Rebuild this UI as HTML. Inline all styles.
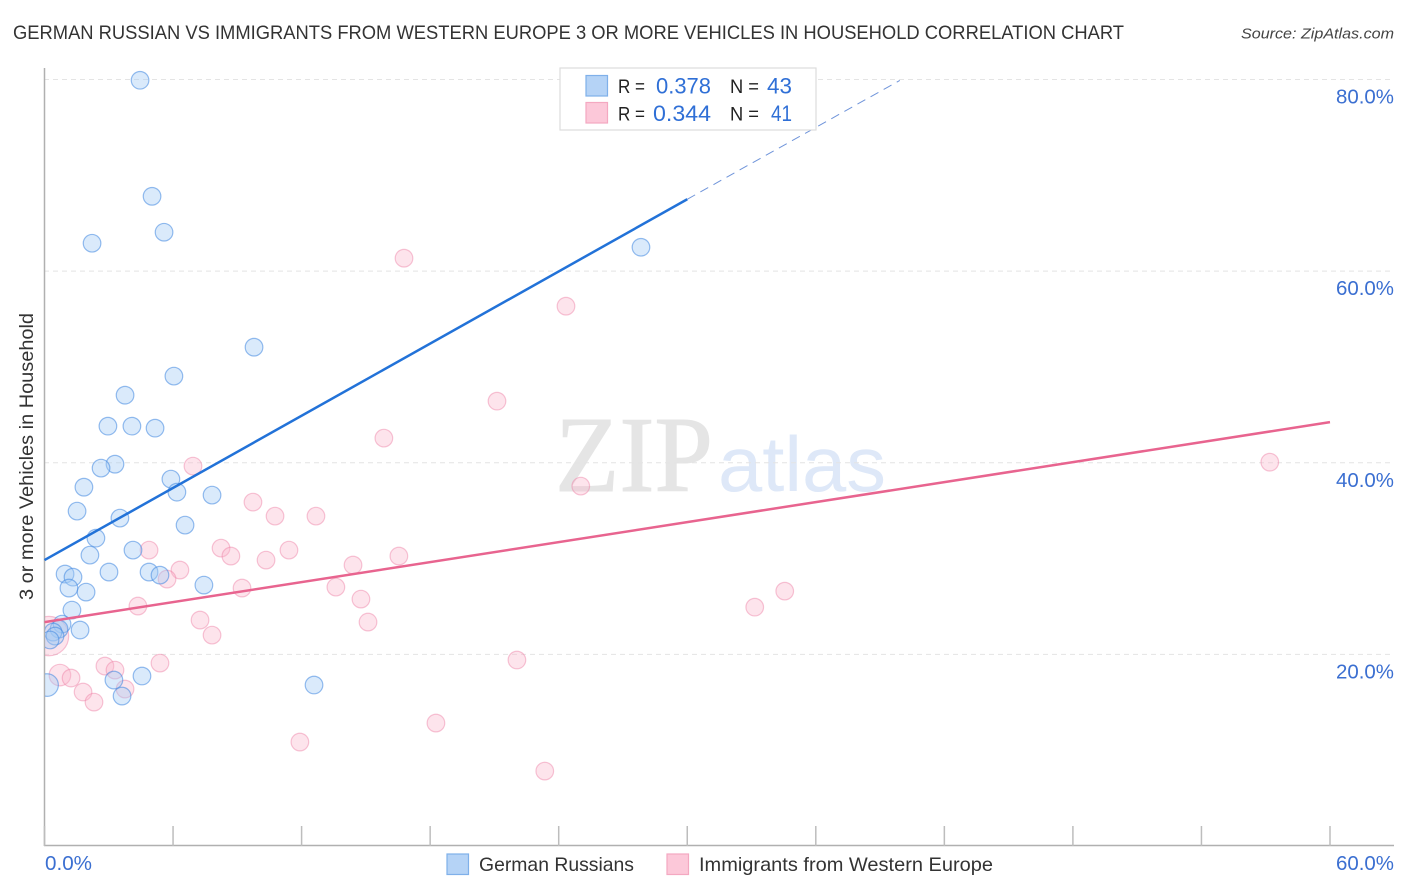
<!DOCTYPE html>
<html lang="en">
<head>
<meta charset="utf-8">
<title>German Russian vs Immigrants from Western Europe Correlation Chart</title>
<style>
html,body{margin:0;padding:0;background:#fff;width:1406px;height:892px;overflow:hidden}
svg{display:block;font-family:"Liberation Sans",sans-serif}
</style>
</head>
<body>
<svg id="chart" xmlns="http://www.w3.org/2000/svg" width="1406" height="892" viewBox="0 0 1406 892">
  <defs>
    <clipPath id="plot-clip"><rect x="45" y="60" width="1349" height="785"/></clipPath>
  </defs>
  <rect x="0" y="0" width="1406" height="892" fill="#fff"/>
  <text x="13" y="39" font-size="19" fill="#333" textLength="1111" lengthAdjust="spacingAndGlyphs">GERMAN RUSSIAN VS IMMIGRANTS FROM WESTERN EUROPE 3 OR MORE VEHICLES IN HOUSEHOLD CORRELATION CHART</text>
  <text x="1394" y="38.5" font-size="15" font-style="italic" fill="#444" text-anchor="end" textLength="153" lengthAdjust="spacingAndGlyphs">Source: ZipAtlas.com</text>

  <g>
    <text x="555" y="491" font-family="'Liberation Serif',serif" font-size="108" fill="#e5e5e5" stroke="#e5e5e5" stroke-width="1" textLength="158" lengthAdjust="spacingAndGlyphs">ZIP</text>
    <text x="718" y="491" font-family="'Liberation Sans',sans-serif" font-size="78" fill="#dee8f8" textLength="168" lengthAdjust="spacingAndGlyphs">atlas</text>
  </g>

  <g id="grid"></g>
  <g id="axes">
    <line x1="44.5" y1="68" x2="44.5" y2="846" stroke="#b0b0b0" stroke-width="1.5"/>
    <line x1="44" y1="845.5" x2="1394" y2="845.5" stroke="#b0b0b0" stroke-width="1.5"/>
  </g>
  <g id="x-ticks"></g>
  <g id="pink-points" clip-path="url(#plot-clip)"></g>
  <g id="blue-points" clip-path="url(#plot-clip)"></g>
  <g id="trend-lines"></g>
  <g id="y-labels"></g>
  <g id="x-labels"></g>

  <text transform="translate(33,456.5) rotate(-90)" font-size="19" fill="#333" text-anchor="middle" textLength="287" lengthAdjust="spacingAndGlyphs">3 or more Vehicles in Household</text>

  <g>
    <rect x="560" y="68" width="256" height="62" fill="#fff" stroke="#ddd" stroke-width="1.2"/>
    <rect x="586" y="75.5" width="21.5" height="20.5" fill="#b5d3f6" stroke="#7fb0ea" stroke-width="1.2"/>
    <rect x="586" y="102.5" width="21.5" height="20.5" fill="#fcc8d9" stroke="#f4a8c1" stroke-width="1.2"/>
    <text x="618" y="93" font-size="19" fill="#222" textLength="27" lengthAdjust="spacingAndGlyphs">R =</text>
    <text x="711" y="93.5" font-size="22" fill="#2f6fd6" text-anchor="end" textLength="55" lengthAdjust="spacingAndGlyphs">0.378</text>
    <text x="730" y="93" font-size="19" fill="#222" textLength="29" lengthAdjust="spacingAndGlyphs">N =</text>
    <text x="792" y="93.5" font-size="22" fill="#2f6fd6" text-anchor="end" textLength="25" lengthAdjust="spacingAndGlyphs">43</text>
    <text x="618" y="120.5" font-size="19" fill="#222" textLength="27" lengthAdjust="spacingAndGlyphs">R =</text>
    <text x="711" y="121" font-size="22" fill="#2f6fd6" text-anchor="end" textLength="58" lengthAdjust="spacingAndGlyphs">0.344</text>
    <text x="730" y="120.5" font-size="19" fill="#222" textLength="29" lengthAdjust="spacingAndGlyphs">N =</text>
    <text x="792" y="121" font-size="22" fill="#2f6fd6" text-anchor="end" textLength="21" lengthAdjust="spacingAndGlyphs">41</text>
  </g>

  <g>
    <rect x="447" y="854" width="21.5" height="20.5" fill="#b5d3f6" stroke="#7fb0ea" stroke-width="1.2"/>
    <text x="479" y="871" font-size="19.5" fill="#333" textLength="155" lengthAdjust="spacingAndGlyphs">German Russians</text>
    <rect x="667" y="854" width="21.5" height="20.5" fill="#fcc8d9" stroke="#f4a8c1" stroke-width="1.2"/>
    <text x="699" y="871" font-size="19.5" fill="#333" textLength="294" lengthAdjust="spacingAndGlyphs">Immigrants from Western Europe</text>
  </g>
</svg>
<script>
const yTickValues = [20, 40, 60, 80];
const yTickLabels = ["20.0%", "40.0%", "60.0%", "80.0%"];
const xTickValues = [0, 6, 12, 18, 24, 30, 36, 42, 48, 54, 60];
const xEndValues = [0, 60];
const xEndLabels = ["0.0%", "60.0%"];

const blueX = [4.46,5.02,2.22,5.58,27.84,9.78,6.04,3.76,2.96,4.08,5.16,3.29,2.64,5.90,1.84,6.18,7.82,1.52,3.52,6.56,2.40,4.13,2.12,0.96,3.01,4.88,5.39,1.33,7.44,1.14,1.94,1.28,0.82,1.66,0.68,0.40,0.49,0.12,4.55,3.24,12.58,3.62,0.26];
const blueY = [79.92,67.81,62.91,64.06,62.49,52.06,49.04,47.05,43.82,43.82,43.61,39.85,39.44,38.29,37.45,36.93,36.62,34.95,34.22,33.49,32.13,30.88,30.36,28.38,28.59,28.59,28.27,28.06,27.23,26.92,26.50,24.62,23.16,22.54,22.64,22.33,21.91,16.80,17.74,17.32,16.80,15.65,21.50];
const blueWeight = [1,1,1,1,1,1,1,1,1,1,1,1,1,1,1,1,1,1,1,1,1,1,1,1,1,1,1,1,1,1,1,1,1,1,1,1,1,1.65,1,1,1,1,1];

const pinkX = [16.78,24.34,21.12,15.84,6.93,25.03,9.73,10.76,12.67,4.88,8.24,8.70,11.41,10.34,16.54,14.40,6.32,5.72,13.60,9.22,14.77,4.36,33.15,34.55,7.26,15.10,7.82,0.21,5.39,22.05,2.82,3.29,0.72,1.24,3.76,1.80,2.31,18.27,11.92,23.35,57.19];
const pinkY = [61.35,56.34,46.43,42.57,39.65,37.56,35.89,34.43,34.43,30.88,31.09,30.26,30.88,29.84,30.26,29.32,28.80,27.86,27.02,26.92,25.77,25.04,24.93,26.60,23.58,23.37,22.01,21.91,19.09,19.41,18.78,18.36,17.84,17.53,16.38,16.07,15.02,12.83,10.85,7.82,40.06];
const pinkWeight = [1,1,1,1,1,1,1,1,1,1,1,1,1,1,1,1,1,1,1,1,1,1,1,1,1,1,1,5,1,1,1,1,1.5,1,1,1,1,1,1,1,1];

const blueTrendX = [0, 30];
const blueTrendY = [29.84, 67.5];
const blueExtensionX = [30, 39.92];
const blueExtensionY = [67.5, 79.9];
const pinkTrendX = [0, 60];
const pinkTrendY = [23.37, 44.24];

const NS = "http://www.w3.org/2000/svg";
function sx(v) { return 44.5 + v * (1330 - 44.5) / 60; }
function sy(v) { return 846 - v * (846 - 79.5) / 80; }
function rad(w) { return 8.8 * Math.sqrt(w); }
function mk(tag, parentId, attrs) {
  const el = document.createElementNS(NS, tag);
  for (const k in attrs) el.setAttribute(k, attrs[k]);
  document.getElementById(parentId).appendChild(el);
  return el;
}

yTickValues.forEach(function (v, i) {
  const grid = mk("line", "grid", { x1: 44, x2: 1394, y1: sy(v), y2: sy(v), stroke: "#e4e4e4", "stroke-width": 1, "stroke-dasharray": "5 4" });
  
  
  const label = mk("text", "y-labels", { x: 1394, y: sy(v) + 24, "font-size": 20, fill: "#3b6fd1", "text-anchor": "end", textLength: 58, lengthAdjust: "spacingAndGlyphs" });
  label.textContent = yTickLabels[i];
  
  
});

xTickValues.forEach(function (v) {
  const tick = mk("line", "x-ticks", { x1: sx(v), x2: sx(v), y1: 826, y2: 846, stroke: "#bdbdbd", "stroke-width": 1.5 });
  
  
});

xEndValues.forEach(function (v, i) {
  const label = mk("text", "x-labels", { x: i === 0 ? sx(v) + 0.5 : 1394, y: 870, "font-size": 20, fill: "#3b6fd1", "text-anchor": i === 0 ? "start" : "end", textLength: i === 0 ? 47 : 58, lengthAdjust: "spacingAndGlyphs" });
  label.textContent = xEndLabels[i];
  
  
});

pinkX.forEach(function (v, i) {
  const c = mk("circle", "pink-points", { cx: sx(v), cy: sy(pinkY[i]), r: rad(pinkWeight[i]), fill: "#f9b4ca", "fill-opacity": 0.36, stroke: "#ee7fa4", "stroke-opacity": 0.45, "stroke-width": 1.2 });
  
  
});

blueX.forEach(function (v, i) {
  const c = mk("circle", "blue-points", { cx: sx(v), cy: sy(blueY[i]), r: rad(blueWeight[i]), fill: "#a3caf5", "fill-opacity": 0.4, stroke: "#3f87e0", "stroke-opacity": 0.55, "stroke-width": 1.2 });
  
  
});

const ext = mk("line", "trend-lines", { x1: sx(blueExtensionX[0]), y1: sy(blueExtensionY[0]), x2: sx(blueExtensionX[1]), y2: sy(blueExtensionY[1]), stroke: "#6f94da", "stroke-width": 1, "stroke-dasharray": "9 6" });


const blueLine = mk("line", "trend-lines", { x1: sx(blueTrendX[0]), y1: sy(blueTrendY[0]), x2: sx(blueTrendX[1]), y2: sy(blueTrendY[1]), stroke: "#2272d8", "stroke-width": 2.5 });


const pinkLine = mk("line", "trend-lines", { x1: sx(pinkTrendX[0]), y1: sy(pinkTrendY[0]), x2: sx(pinkTrendX[1]), y2: sy(pinkTrendY[1]), stroke: "#e8648f", "stroke-width": 2.5 });


</script>
</body>
</html>
